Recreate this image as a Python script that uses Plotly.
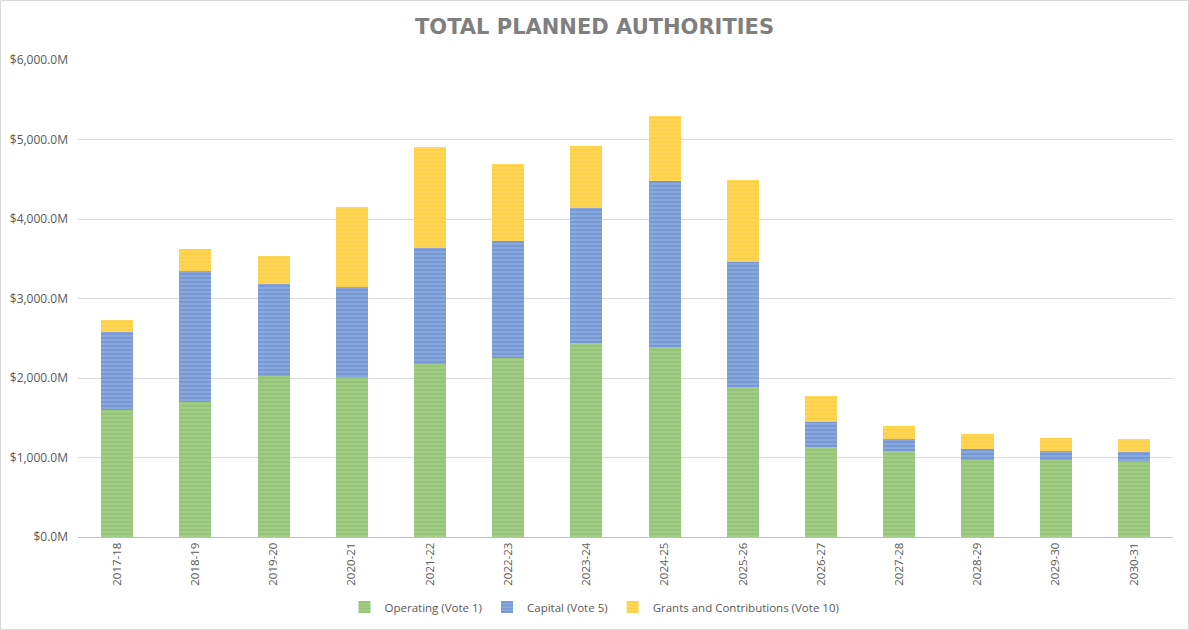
import plotly.graph_objects as go

years = ["2017-18", "2018-19", "2019-20", "2020-21", "2021-22", "2022-23", "2023-24",
         "2024-25", "2025-26", "2026-27", "2027-28", "2028-29", "2029-30", "2030-31"]
operating = [1600, 1700, 2025, 2010, 2175, 2250, 2440, 2390, 1885, 1130, 1080, 970, 970, 955]
capital = [980, 1646, 1157, 1135, 1460, 1470, 1700, 2090, 1575, 315, 150, 140, 110, 115]
grants = [150, 277, 353, 1005, 1270, 970, 780, 820, 1030, 330, 165, 185, 165, 165]

W, H = 1189, 630
ML, MR, MT, MB = 78, 16, 60, 93

series = [
    ("Operating (Vote 1)", operating, "#70AD47", "#B9DAA3"),
    ("Capital (Vote 5)", capital, "#4472C4", "#A9BFE6"),
    ("Grants and Contributions (Vote 10)", grants, "#FFC000", "#FFE085"),
]

fig = go.Figure()
for name, vals, fg, bg in series:
    fig.add_trace(go.Bar(
        x=years, y=vals, name=name,
        marker=dict(color=fg, line=dict(width=0),
                    pattern=dict(shape="-", fgcolor=fg, bgcolor=bg, size=4, solidity=0.8)),
    ))

pw = W - ML - MR
ph = H - MT - MB
fig.add_shape(type="rect", xref="paper", yref="paper",
              x0=(0.5 - ML) / pw, x1=(W - 0.5 - ML) / pw,
              y0=-(H - 0.5 - MT - ph) / ph, y1=(MT - 0.5) / ph + 1,
              line=dict(color="#D9D9D9", width=1), layer="below")

fig.update_layout(
    width=W, height=H,
    margin=dict(l=ML, r=MR, t=MT, b=MB, autoexpand=False),
    barmode="stack", bargap=0.59,
    plot_bgcolor="white", paper_bgcolor="white",
    font=dict(family="Open Sans", color="#595959", size=12),
    title=dict(text="<b>TOTAL PLANNED AUTHORITIES</b>", x=0.5, xref="container",
               xanchor="center", y=1 - 27 / H, yanchor="middle",
               font=dict(family="DejaVu Sans", size=21, color="#7F7F7F")),
    showlegend=True,
    legend=dict(orientation="h", x=0.5, xanchor="center", xref="container",
                y=1 - 607 / H, yref="container", yanchor="middle",
                font=dict(size=11.5, color="#595959"), traceorder="normal",
                itemwidth=30),
    xaxis=dict(tickangle=-90, showline=True, linecolor="#BFBFBF", linewidth=1,
               ticks="", tickfont=dict(size=11.5), automargin=False),
    yaxis=dict(range=[0, 6000], dtick=1000, tickformat="$,.1f", ticksuffix="M",
               gridcolor="#D9D9D9", gridwidth=1, zeroline=False, showline=False,
               tickfont=dict(size=12), ticklabelstandoff=9, automargin=False),
)

fig.write_html("out.html")
